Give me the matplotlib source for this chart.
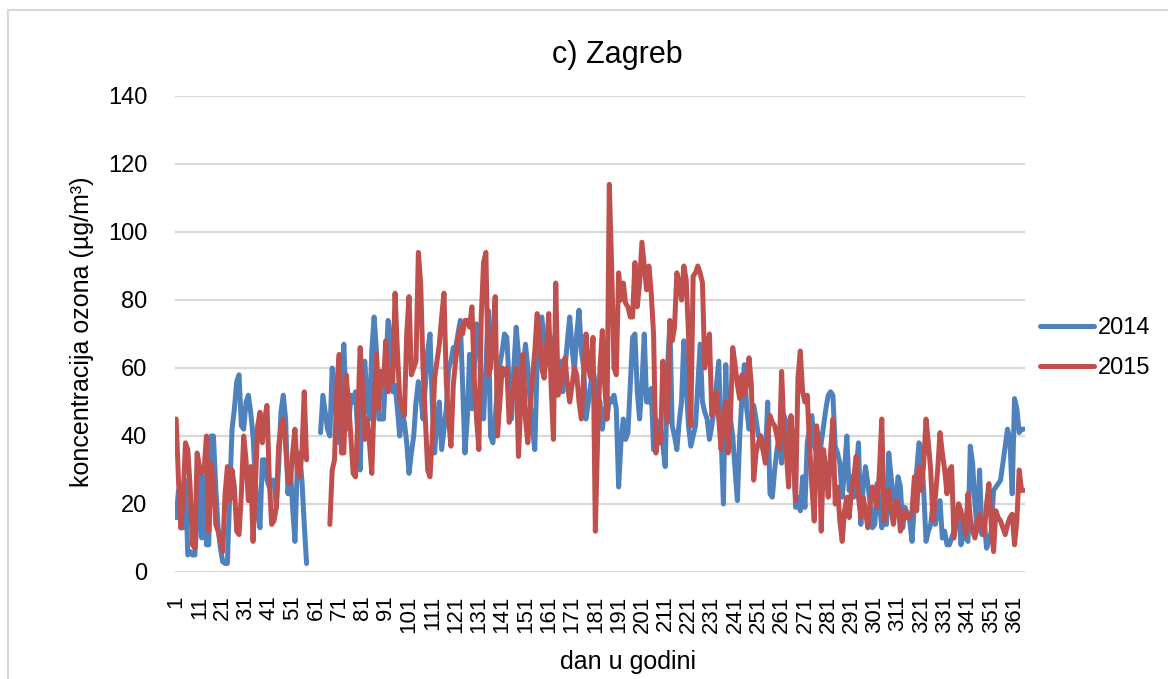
import numpy as np
import matplotlib
matplotlib.use("Agg")
import matplotlib.pyplot as plt
from matplotlib.patches import Rectangle

plt.rcParams['font.family'] = ['Liberation Sans', 'DejaVu Sans']

nan = np.nan

days = np.arange(1, 366)
tick_days = np.arange(1, 366, 10)

# 2014 daily ozone (µg/m3)
ozone_2014 = [
    16, 24, 13, 13, 27, 5, 6, 5, 5, 15,
    29, 10, 28, 8, 8, 40, 40, 25, 13, 7,
    3, 2.5, 2.5, 23, 42, 48, 56, 58, 43, 42,
    50, 52, 47, 40, 27, 17, 13, 33, 33, 27,
    25, 27, 27, 19, 31, 47, 52, 45, 23, 31,
    19, 9, 31, 35, 27, 14, 2.5, nan, nan, nan,
    nan, nan, 41, 52, 47, 42, 40, 60, 50, 44,
    38, 55, 67, 48, 42, 52, 50, 53, 40, 30,
    55, 62, 50, 45, 65, 75, 65, 45, 45, 45,
    60, 74, 70, 53, 55, 48, 40, 47, 44, 38,
    29, 35, 40, 50, 56, 52, 45, 55, 65, 70,
    49, 35, 45, 50, 36, 42, 48, 60, 62, 66,
    66, 70, 74, 55, 35, 45, 64, 48, 60, 73,
    69, 55, 45, 60, 77, 40, 38, 45, 55, 61,
    65, 70, 69, 55, 45, 60, 72, 64, 55, 60,
    67, 60, 50, 42, 36, 61, 70, 75, 68, 61,
    64, 69, 60, 52, 57, 62, 53, 60, 68, 75,
    66, 59, 70, 77, 65, 60, 45, 50, 55, 60,
    55, 52, 50, 42, 48, 45, 51, 50, 52, 48,
    25, 38, 45, 39, 41, 55, 69, 70, 53, 45,
    55, 70, 50, 50, 54, 36, 45, 40, 42, 37,
    31, 60, 73, 43, 40, 36, 44, 50, 68, 55,
    43, 37, 40, 43, 55, 67, 50, 47, 45, 39,
    43, 48, 55, 62, 40, 20, 61, 38, 45, 40,
    30, 21, 40, 52, 61, 48, 42, 46, 49, 45,
    40, 40, 36, 33, 50, 23, 22, 30, 36, 40,
    32, 46, 44, 36, 41, 38, 19, 22, 18, 28,
    19, 38, 42, 46, 37, 35, 32, 38, 43, 48,
    52, 53, 52, 37, 35, 32, 22, 30, 40, 24,
    28, 22, 30, 38, 14, 25, 31, 26, 20, 13,
    14, 26, 20, 13, 16, 14, 35, 28, 22, 20,
    28, 25, 13, 19, 17, 15, 9, 20, 30, 38,
    35, 24, 9, 12, 14, 20, 14, 18, 21, 10,
    12, 8, 8, 10, 12, 15, 20, 8, 12, 10,
    9, 37, 32, 20, 12, 30, 11, 15, 7, 9,
    12, 24, 25, 26, 27, 32, 37, 42, 39, 23,
    51, 48, 41, 42, 42,
]

# 2015 daily ozone (µg/m3)
ozone_2015 = [
    45, 27, 13, 22, 38, 36, 25, 8, 7, 35,
    31, 29, 30, 40, 12, 32, 27, 14, 12, 9,
    6, 23, 31, 21, 30, 25, 12, 11, 23, 40,
    33, 21, 31, 9, 25, 43, 47, 38, 45, 49,
    27, 14, 15, 19, 37, 43, 45, 37, 27, 26,
    35, 42, 30, 28, 35, 53, 33, nan, nan, nan,
    nan, nan, nan, nan, nan, nan, 14, 30, 33, 55,
    64, 35, 35, 58, 50, 40, 29, 28, 45, 66,
    55, 39, 45, 38, 29, 50, 64, 48, 59, 55,
    68, 53, 60, 56, 82, 65, 51, 48, 46, 70,
    81, 58, 60, 62, 94, 85, 60, 45, 30, 28,
    40, 57, 62, 67, 75, 82, 56, 45, 37, 55,
    62, 68, 72, 70, 74, 74, 72, 78, 57, 45,
    36, 75, 91, 94, 58, 60, 70, 81, 40, 50,
    60, 58, 60, 44, 50, 55, 60, 34, 50, 64,
    45, 38, 48, 57, 65, 76, 70, 60, 57, 65,
    76, 55, 39, 85, 52, 55, 60, 63, 55, 50,
    55, 60, 58, 50, 45, 58, 70, 60, 57, 69,
    12, 40, 60, 71, 55, 45, 114, 90, 60, 58,
    88, 80, 85, 79, 78, 75, 75, 91, 78, 85,
    97, 90, 83, 90, 82, 70, 35, 40, 38, 62,
    50, 44, 74, 68, 72, 88, 85, 80, 90, 86,
    70, 43, 87, 88, 90, 88, 85, 60, 65, 70,
    46, 48, 53, 45, 36, 45, 50, 35, 45, 66,
    61, 55, 51, 58, 52, 55, 63, 55, 27, 35,
    38, 40, 36, 32, 40, 46, 44, 43, 40, 36,
    59, 41, 35, 25, 46, 35, 21, 57, 65, 53,
    50, 52, 37, 25, 15, 43, 38, 12, 36, 30,
    22, 35, 45, 20, 25, 15, 9, 18, 22, 16,
    24, 28, 34, 22, 16, 22, 18, 13, 20, 25,
    22, 19, 30, 45, 15, 20, 24, 18, 14, 21,
    20, 12, 15, 18, 16, 16, 18, 28, 18, 31,
    24, 32, 45, 38, 30, 15, 22, 30, 41, 35,
    30, 23, 30, 31, 10, 15, 20, 18, 15, 11,
    23, 16, 12, 10, 14, 17, 14, 11, 20, 26,
    14, 6, 18, 16, 15, 13, 11, 14, 16, 17,
    8, 15, 30, 24, 24,
]

W, H = 1168, 679
fig = plt.figure(figsize=(W / 100, H / 100), dpi=100)

# light frame of the chart area
fig.patches.append(Rectangle((8 / W, -0.1), 1.2, 1.1 - 10 / H, transform=fig.transFigure,
                             fill=False, edgecolor='#d9d9d9', linewidth=1.5))

ax = fig.add_axes([175 / W, 1 - 572 / H, 850 / W, 476 / H])

ax.plot(days, ozone_2014, color='#4f81bd', lw=3.6, label='2014',
        solid_joinstyle='round', solid_capstyle='round')
ax.plot(days, ozone_2015, color='#c0504d', lw=3.6, label='2015',
        solid_joinstyle='round', solid_capstyle='round')

ax.set_xlim(0.5, 365.5)
ax.set_ylim(0, 140)
ax.set_yticks(np.arange(0, 141, 20))
ax.set_xticks(tick_days)
ax.set_xticklabels([str(d) for d in tick_days], rotation=90, fontsize=16)
ax.tick_params(axis='y', labelsize=17, length=0, pad=20)
ax.tick_params(axis='x', length=0, pad=17)
ax.grid(axis='y', color='#d9d9d9', linewidth=1.6)
ax.set_axisbelow(True)
for s in ax.spines.values():
    s.set_visible(False)

fig.text(617 / W, 1 - 55 / H, 'c) Zagreb', fontsize=22, ha='center', va='center')
fig.text(82 / W, 1 - 332 / H, 'koncentracija ozona (µg/m³)', fontsize=18,
         rotation=90, ha='center', va='center')
fig.text(628 / W, 1 - 662 / H, 'dan u godini', fontsize=18, ha='center', va='center')

ax.legend(loc='center left', bbox_to_anchor=(1.0176, 0.4706), frameon=False,
          fontsize=17, handlelength=2.3, handletextpad=0.15, labelspacing=0.75,
          borderpad=0, borderaxespad=0)

fig.savefig('out.png', dpi=100)
